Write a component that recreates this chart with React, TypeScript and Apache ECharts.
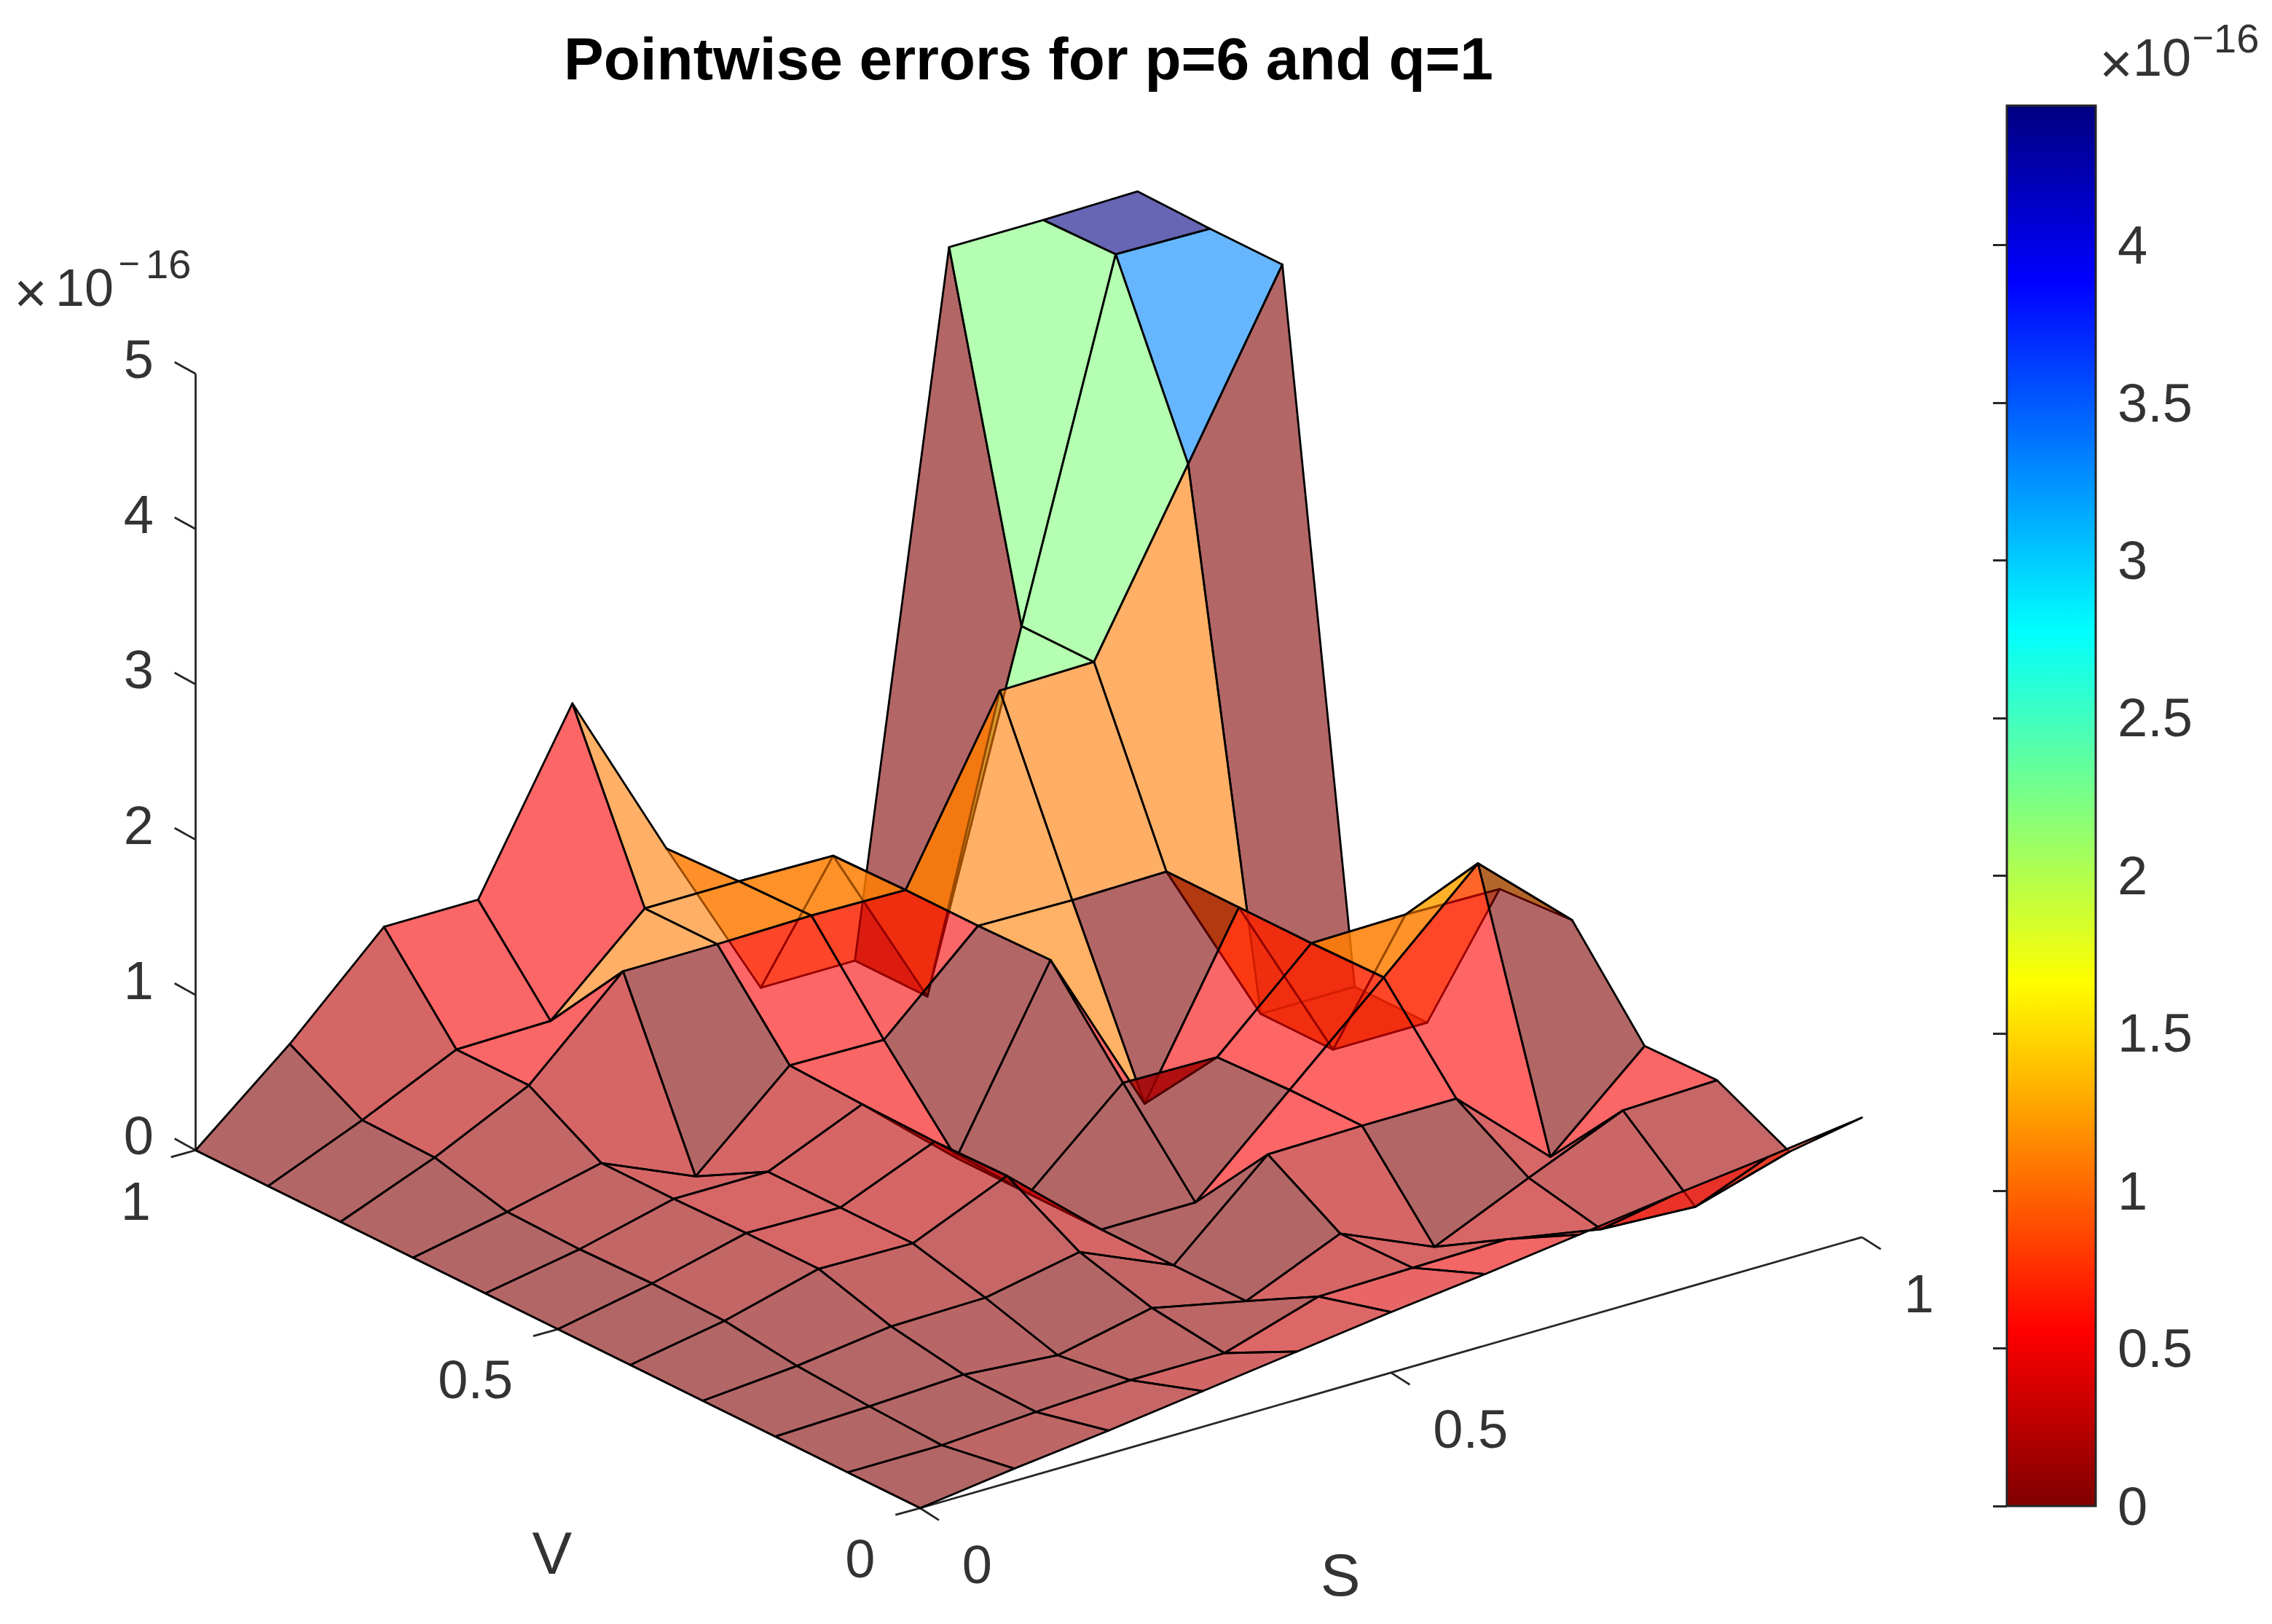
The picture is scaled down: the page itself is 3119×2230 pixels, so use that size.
import React, { useEffect, useRef } from "react";
import * as echarts from "echarts";

const titleText = "Pointwise errors for p=6 and q=1";
const sValues = [0, 0.1, 0.2, 0.3, 0.4, 0.5, 0.6, 0.7, 0.8, 0.9, 1];
const vValues = [0, 0.1, 0.2, 0.3, 0.4, 0.5, 0.6, 0.7, 0.8, 0.9, 1];
// errors (x 1e-16): one row per S value, one column per V value
const errorGrid = [
  [0, 0, 0, 0, 0, 0, 0, 0, 0, 0, 0],
  [0.08, 0, 0.02, 0.05, 0.11, 0.12, 0.11, 0.12, 0.24, 0.25, 0.51],
  [0.15, 0.04, 0.05, 0.13, 0.27, 0.27, 0.26, 0.26, 0.53, 0.53, 1.09],
  [0.23, 0.07, 0, 0.14, 0.26, 0.26, 0.26, 0, 1.09, 0.54, 1.09],
  [0.31, 0.07, 0.13, 0.26, 0.52, 0.51, 0.52, 0.54, 1.09, 1.09, 2.18],
  [0.39, 0.26, 0, 0, 0, 0, 0, 0.53, 1.1, 1.09, 1.07],
  [0.46, 0.27, 0.26, 0.54, 0, 0.54, 1.1, 1.09, 1.09, 1.08, 0],
  [0.54, 0.28, 0, 0.55, 0.55, 0.53, 0, 1.08, 2.2, 0, 0],
  [0.62, 0.17, 0.27, 0.55, 1.1, 1.09, 1.09, 1.09, 2.21, 2.21, 4.42],
  [0.69, 0.14, 0.53, 0, 1.66, 1.1, 0, 0, 3.31, 4.43, 4.42],
  [0.77, 0.32, 0.55, 0.54, 1.12, 1.09, 0, 0, 4.42, 4.42, 4.43],
];
const zTicks = [0, 1, 2, 3, 4, 5];
const sTicks = [0, 0.5, 1];
const vTicks = [0, 0.5, 1];
const colorTicks = [0, 0.5, 1, 1.5, 2, 2.5, 3, 3.5, 4];
const colorMax = 4.443;

const TEXT = "#333333";
const AXIS = "#262626";
const FONT = '"Liberation Sans", Arial, sans-serif';
const LABEL_SIZE = 74;
const LABEL_FONT = `${LABEL_SIZE}px ${FONT}`;
const NAME_FONT = `82px ${FONT}`;
const PX = 3119 / 1568;

// Orthographic view of the MATLAB axes, in the hidden plane axes' units.
function project(s: number, v: number, z: number): number[] {
  return [635 + 650 * s - 500 * v, 1041 - 187 * s - 247 * v - 107.2 * z];
}

function jet(t: number): number[] {
  const c = (x: number) => Math.max(0, Math.min(1, x));
  return [
    c(Math.min(4 * t - 1.5, -4 * t + 4.5)),
    c(Math.min(4 * t - 0.5, -4 * t + 3.5)),
    c(Math.min(4 * t + 0.5, -4 * t + 2.5)),
  ].map((x) => Math.round(x * 255));
}
function errorRgb(z: number): number[] {
  return jet(1 - Math.min(1, z / colorMax));
}

const cells: number[][] = [];
for (let i = 0; i < sValues.length - 1; i++) {
  for (let j = 0; j < vValues.length - 1; j++) cells.push([i, j]);
}
function cellDepth(c: number[]): number {
  const [i, j] = c;
  const zMean =
    (errorGrid[i][j] + errorGrid[i + 1][j] + errorGrid[i][j + 1] + errorGrid[i + 1][j + 1]) / 4;
  return 50 * (i + 0.5) + 65 * (j + 0.5) - 43.4 * zMean;
}
cells.sort((a, b) => cellDepth(b) - cellDepth(a));

function label(text: string, x: number, y: number, align: string) {
  return {
    type: "text",
    silent: true,
    style: {
      text,
      x,
      y,
      font: LABEL_FONT,
      fill: TEXT,
      textAlign: align,
      align,
      textVerticalAlign: "middle",
      verticalAlign: "middle",
    },
  };
}
function segment(api: any, a: number[], b: number[], width = 2.8) {
  const p = api.coord(a);
  const q = api.coord(b);
  return {
    type: "line",
    silent: true,
    shape: { x1: p[0], y1: p[1], x2: q[0], y2: q[1] },
    style: { stroke: AXIS, lineWidth: width },
  };
}
function tickItem(api: any, at: number[], tick: number[], text: string, off: number[], align: string) {
  const end = [at[0] + tick[0], at[1] + tick[1]];
  const pos = api.coord([at[0] + off[0], at[1] + off[1]]);
  return {
    type: "group",
    children: [segment(api, at, end), label(text, pos[0], pos[1], align)],
  };
}
function exponent(x10: number, y10: number, xTimes: number, yTimes: number, xMinus: number, x16: number, y16: number) {
  const t = (text: string, x: number, y: number, size: number, align: string) => ({
    type: "text",
    silent: true,
    x,
    y,
    style: {
      text,
      font: `${size}px ${FONT}`,
      fill: TEXT,
      textAlign: align,
      align,
      textVerticalAlign: "middle",
      verticalAlign: "middle",
    },
  });
  return [
    t("×", xTimes, yTimes, 78, "center"),
    t("10", x10, y10, 72, "left"),
    t("−", xMinus, y16, 50, "center"),
    t("16", x16, y16, 56, "left"),
  ];
}

export default function App() {
  const ref = useRef<HTMLDivElement>(null);
  useEffect(() => {
    const chart = echarts.init(ref.current!, null, { renderer: "svg" });
    const stops = [0, 0.125, 0.375, 0.625, 0.875, 1].map((t) => {
      const c = jet(t);
      return { offset: t, color: `rgb(${c[0]},${c[1]},${c[2]})` };
    });
    const axisLines: number[][][] = [
      [project(0, 0, 0), project(1, 0, 0)],
      [project(0, 0, 0), project(0, 1, 0)],
      [project(0, 1, 0), project(0, 1, 5)],
    ];
    chart.setOption({
      animation: false,
      backgroundColor: "#ffffff",
      title: {
        text: titleText,
        left: 1407,
        top: 34,
        textAlign: "center",
        textStyle: { fontFamily: FONT, fontWeight: "bold", fontSize: 82, color: "#000000" },
      },
      grid: [
        { left: 0, right: 0, top: 0, bottom: 0 },
        { left: 2755, width: 122, top: 145, height: 1923 },
      ],
      xAxis: [
        { gridIndex: 0, type: "value", min: 0, max: 1568, show: false },
        { gridIndex: 1, type: "value", min: 0, max: 1, show: false },
      ],
      yAxis: [
        { gridIndex: 0, type: "value", min: 0, max: 1121, inverse: true, show: false },
        {
          gridIndex: 1,
          type: "value",
          min: 0,
          max: colorMax,
          position: "right",
          splitLine: { show: false },
          axisLine: { show: false },
          axisTick: {
            show: true,
            inside: true,
            length: 19,
            customValues: colorTicks,
            lineStyle: { color: AXIS, width: 3 },
          },
          axisLabel: {
            show: true,
            margin: 30,
            customValues: colorTicks,
            formatter: (v: number) => String(v),
            fontFamily: FONT,
            fontSize: LABEL_SIZE,
            color: TEXT,
          },
        },
      ],
      series: [
        {
          type: "custom",
          silent: true,
          clip: false,
          coordinateSystem: "cartesian2d",
          xAxisIndex: 1,
          yAxisIndex: 1,
          z: 1,
          data: [[0, 0, 1, colorMax]],
          renderItem: (_p: any, api: any) => {
            const a = api.coord([api.value(0), api.value(3)]);
            const b = api.coord([api.value(2), api.value(1)]);
            return {
              type: "rect",
              shape: { x: a[0], y: a[1], width: b[0] - a[0], height: b[1] - a[1] },
              style: {
                fill: new echarts.graphic.LinearGradient(0, 0, 0, 1, stops),
                stroke: AXIS,
                lineWidth: 3,
              },
            };
          },
        },
        {
          type: "custom",
          silent: true,
          clip: false,
          xAxisIndex: 0,
          yAxisIndex: 0,
          data: axisLines.map((l) => [l[0][0], l[0][1], l[1][0], l[1][1]]),
          renderItem: (_p: any, api: any) =>
            segment(api, [api.value(0), api.value(1)], [api.value(2), api.value(3)]),
        },
        {
          type: "custom",
          silent: true,
          clip: false,
          xAxisIndex: 0,
          yAxisIndex: 0,
          data: zTicks.map((z) => [z]),
          renderItem: (_p: any, api: any) => {
            const z = api.value(0);
            return tickItem(api, project(0, 1, z), [-14.5, -8], String(z), [-29, -10], "right");
          },
        },
        {
          type: "custom",
          silent: true,
          clip: false,
          xAxisIndex: 0,
          yAxisIndex: 0,
          data: sTicks.map((s) => [s]),
          renderItem: (_p: any, api: any) => {
            const s = api.value(0);
            return tickItem(api, project(s, 0, 0), [13, 8.3], String(s), [29, 39], "left");
          },
        },
        {
          type: "custom",
          silent: true,
          clip: false,
          xAxisIndex: 0,
          yAxisIndex: 0,
          data: vTicks.map((v) => [v]),
          renderItem: (_p: any, api: any) => {
            const v = api.value(0);
            return tickItem(api, project(0, v, 0), [-17, 4.7], String(v), [-31, 35], "right");
          },
        },
        {
          type: "custom",
          silent: true,
          clip: false,
          xAxisIndex: 0,
          yAxisIndex: 0,
          data: cells,
          renderItem: (_p: any, api: any) => {
            const i = api.value(0);
            const j = api.value(1);
            const corners = [
              [i, j],
              [i + 1, j],
              [i + 1, j + 1],
              [i, j + 1],
            ].map(([a, b]) => api.coord(project(sValues[a], vValues[b], errorGrid[a][b])));
            const c = errorRgb(errorGrid[i][j]);
            return {
              type: "polygon",
              shape: { points: corners },
              style: {
                fill: `rgba(${c[0]},${c[1]},${c[2]},0.6)`,
                stroke: "#000000",
                lineWidth: 2.8,
                lineJoin: "round",
              },
            };
          },
        },
      ],
      graphic: [
        {
          type: "group",
          silent: true,
          children: [
            ...exponent(76, 395, 42, 402, 177, 200, 362),
            ...exponent(2928, 79, 2905, 87, 3024, 3039, 52),
            {
              type: "text",
              x: 381 * PX,
              y: 1072 * PX,
              style: { text: "V", font: NAME_FONT, fill: TEXT, textAlign: "center", align: "center", textVerticalAlign: "middle", verticalAlign: "middle" },
            },
            {
              type: "text",
              x: 925 * PX,
              y: 1087 * PX,
              style: { text: "S", font: NAME_FONT, fill: TEXT, textAlign: "center", align: "center", textVerticalAlign: "middle", verticalAlign: "middle" },
            },
          ],
        },
      ],
    });
    return () => chart.dispose();
  }, []);
  return <div ref={ref} style={{ position: "absolute", left: 0, top: 0, width: 3119, height: 2230 }} />;
}
